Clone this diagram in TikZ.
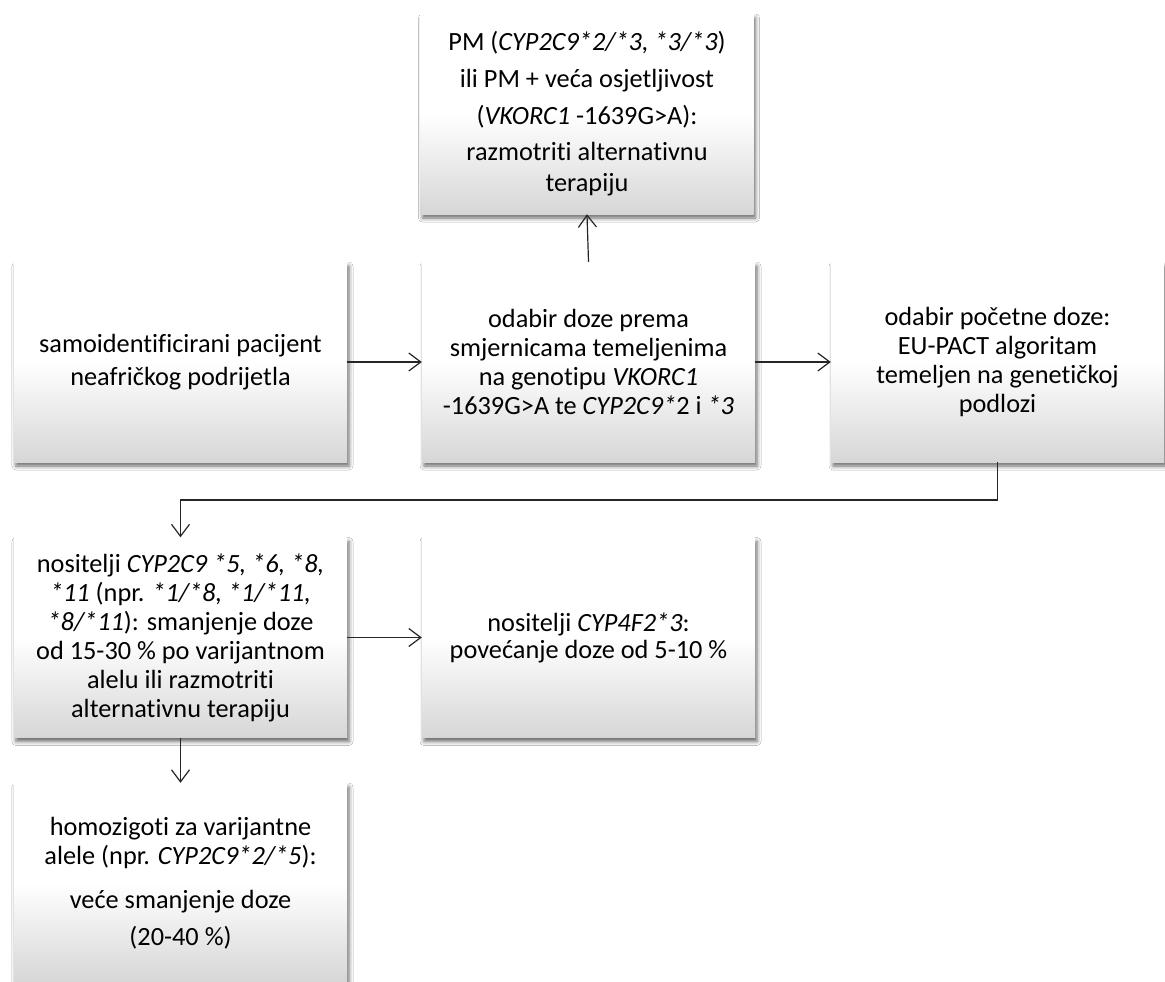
\documentclass[tikz,border=0pt]{standalone}
\usepackage{fontspec}
\setmainfont{Carlito}[Ligatures=NoCommon]
\usetikzlibrary{arrows.meta,shadows.blur}
\tikzset{
  box/.style={minimum width=333pt, minimum height=200pt, inner sep=0pt,
    top color=white, bottom color=black!16, middle color=white,
    blur shadow={shadow xshift=2pt, shadow yshift=-4pt, shadow blur radius=4pt, shadow opacity=60},
    align=center, font=\fontsize{26.3}{29}\selectfont},
  conn/.style={line width=1.2pt, draw=black!85, -{Straight Barb[length=12pt,width=18pt,line width=1.2pt]}}
}
\begin{document}
\begin{tikzpicture}[x=1pt,y=-1pt]
\useasboundingbox[fill=white] (0,0) rectangle (1165,982);
\node[box] (top) at (587,114) {PM (\textit{CYP2C9*2/*3, *3/*3})\\[8pt] ili PM + veća osjetljivost\\[8pt] (\textit{VKORC1} -1639G>A):\\[7pt] razmotriti alternativnu\\[2pt] terapiju};
\node[box, font=\fontsize{26.3}{33}\selectfont] (start) at (180.5,362) {samoidentificirani pacijent\\ neafričkog podrijetla};
\node[box] (mid) at (588.5,362) {odabir doze prema\\ smjernicama temeljenima\\ na genotipu \textit{VKORC1}\\ -1639G>A te \textit{CYP2C9*}2 i \textit{*3}};
\node[box] (right) at (997.5,362) {odabir početne doze:\\ EU-PACT algoritam\\ temeljen na genetičkoj\\ podlozi};
\node[box] (carr) at (180.5,637.5) {nositelji \textit{CYP2C9 *5, *6, *8,}\\ \textit{*11} (npr. \textit{*1/*8, *1/*11,}\\ \textit{*8/*11}): smanjenje doze\\ od 15-30 \% po varijantnom\\ alelu ili razmotriti\\ alternativnu terapiju};
\node[box, font=\fontsize{26.3}{27}\selectfont] (cyp4) at (588.5,637.5) {nositelji \textit{CYP4F2*3}:\\ povećanje doze od 5-10 \%};
\node[box] (homo) at (180.5,883) {homozigoti za varijantne\\ alele (npr. \textit{CYP2C9*2/*5}):\\[15pt] veće smanjenje doze\\[8pt] (20-40 \%)};
\coordinate (bend1) at (right.south |- 0,500);
\coordinate (bend2) at (carr.north |- 0,500);
\draw[conn] (start.east) -- (mid.west);
\draw[conn] (mid.east) -- (right.west);
\draw[conn] (mid.north) -- (top.south);
\draw[conn] (right.south) -- (bend1) -- (bend2) -- (carr.north);
\draw[conn] (carr.east) -- (cyp4.west);
\draw[conn] (carr.south) -- (homo.north);
\end{tikzpicture}
\end{document}
